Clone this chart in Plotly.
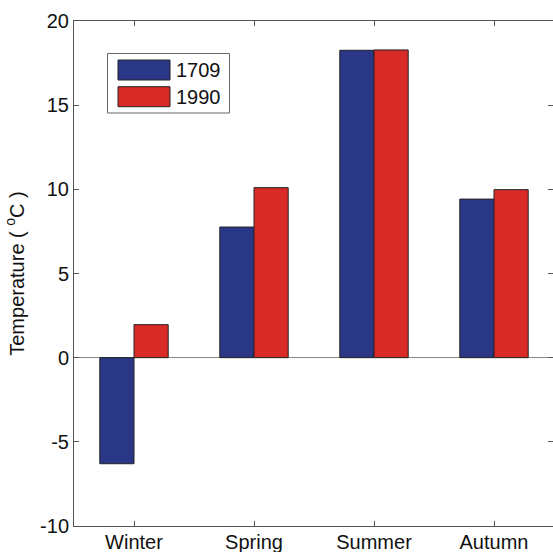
import plotly.graph_objects as go

# Seasonal mean temperatures for two years
seasons = ["Winter", "Spring", "Summer", "Autumn"]
years = ["1709", "1990"]
temps_1709 = [-6.3, 7.76, 18.26, 9.42]
temps_1990 = [1.96, 10.1, 18.28, 9.98]
y_ticks = [-10, -5, 0, 5, 10, 15, 20]

colors = ["#2a3786", "#d82a27"]
edge = "#222222"
axis_col = "#555555"
font = dict(family="Liberation Sans, Arial, sans-serif", size=20, color="#111111")

W, H = 553, 552
L, R, T, B = 74, 0, 21, 26
plot_w, plot_h = W - L - R, H - T - B

positions = list(range(1, len(seasons) + 1))
x_range = [0.5, 0.5 + plot_w / 120.0]

fig = go.Figure()
for name, vals, col in zip(years, [temps_1709, temps_1990], colors):
    fig.add_trace(go.Bar(
        x=positions, y=vals, name=name,
        marker=dict(color=col, line=dict(color=edge, width=1)),
    ))

# Legend drawn as a framed box with large colour swatches
def px_x(px):
    return (px - L) / plot_w

def px_y(py):
    return (H - B - py) / plot_h

shapes = [dict(type="rect", xref="paper", yref="paper",
               x0=px_x(107.5), x1=px_x(229.5), y0=px_y(113), y1=px_y(53.5),
               line=dict(color="#666666", width=1), fillcolor="white", layer="above")]
annotations = []
for i, (name, col) in enumerate(zip(years, colors)):
    top = 60 + i * 26.7
    shapes.append(dict(type="rect", xref="paper", yref="paper",
                       x0=px_x(118), x1=px_x(170), y0=px_y(top + 20), y1=px_y(top),
                       line=dict(color=edge, width=1), fillcolor=col, layer="above"))
    annotations.append(dict(xref="paper", yref="paper", x=px_x(174), y=px_y(top + 10),
                            text=name, showarrow=False, xanchor="left", yanchor="middle",
                            font=dict(family=font["family"], size=20, color="#111111")))

fig.update_layout(
    width=W, height=H,
    margin=dict(l=L, r=R, t=T, b=B, autoexpand=False),
    paper_bgcolor="white", plot_bgcolor="white",
    font=font,
    showlegend=False,
    barmode="group", bargap=0.43, bargroupgap=0.0,
    shapes=shapes, annotations=annotations,
    xaxis=dict(range=x_range, tickvals=positions, ticktext=seasons, automargin=False,
               showline=True, linecolor=axis_col, linewidth=1, mirror="ticks",
               ticks="inside", ticklen=5, tickcolor=axis_col, ticklabelstandoff=-2,
               showgrid=False, zeroline=False, tickfont=font),
    yaxis=dict(range=[-10, 20], tickvals=y_ticks, ticktext=[str(v) for v in y_ticks],
               automargin=False,
               showline=True, linecolor=axis_col, linewidth=1,
               ticks="inside", ticklen=5, tickcolor=axis_col,
               showgrid=False, zeroline=True, zerolinecolor="#888888", zerolinewidth=1,
               title=dict(text="Temperature ( <sup>o</sup>C )", font=font, standoff=10),
               tickfont=font),
    yaxis2=dict(range=[-10, 20], tickvals=y_ticks, overlaying="y", side="right",
                automargin=False,
                showline=False, showticklabels=False, showgrid=False, zeroline=False,
                ticks="inside", ticklen=5, tickcolor=axis_col),
)
# invisible trace to activate the right-hand tick axis
fig.add_trace(go.Scatter(x=[None], y=[None], yaxis="y2", showlegend=False, hoverinfo="skip"))

fig.write_html("out.html")
